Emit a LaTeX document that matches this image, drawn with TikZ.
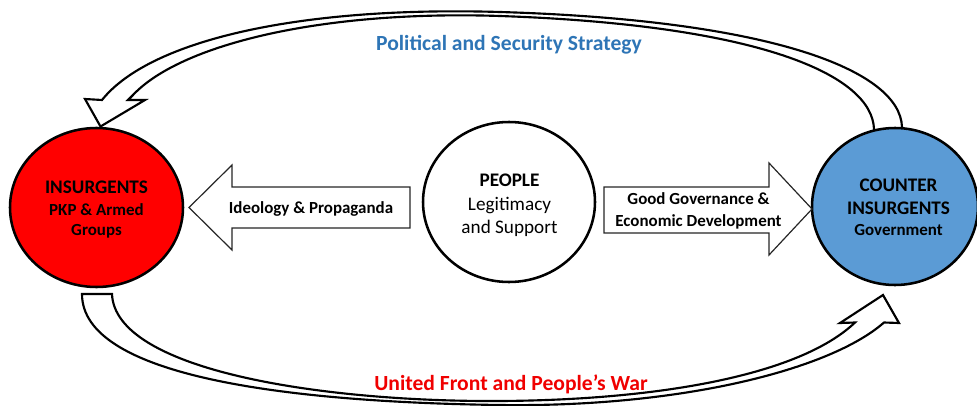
\documentclass[tikz,border=0pt]{standalone}
\usepackage{fontspec}
\setmainfont{Carlito}
\usetikzlibrary{shapes.geometric}
\definecolor{insred}{RGB}{255,0,0}
\definecolor{cblue}{RGB}{91,155,213}
\definecolor{tblue}{RGB}{46,117,182}
\definecolor{tred}{RGB}{240,0,0}
\tikzset{
  party/.style={ellipse,draw=black,line width=1.9pt,inner sep=0pt},
  bendarrow/.style={draw=black,fill=white,line width=1.6pt,line join=miter},
  blockarrow/.style={draw=black!85,fill=white,line width=0.9pt,line join=miter},
  lbl/.style={inner sep=0pt,anchor=base,align=center},
  bigb/.style={lbl,font=\fontsize{14.4}{16}\selectfont\bfseries},
  smallb/.style={lbl,font=\fontsize{12.7}{14}\selectfont\bfseries},
  reg/.style={lbl,font=\fontsize{14.4}{16}\selectfont},
  arrowtxt/.style={lbl,font=\fontsize{12.7}{14}\selectfont\bfseries},
  title/.style={lbl,font=\fontsize{16.2}{18}\selectfont\bfseries}
}
\begin{document}
\begin{tikzpicture}[x=0.75pt,y=-0.75pt]
\useasboundingbox (0,0) rectangle (977,406);
% curved arrow on top (from counter insurgents to insurgents)
\draw[bendarrow] (902,138) -- (902,127) .. controls (900,70) and (770,20) .. (500,12)
  .. controls (300,6) and (150,40) .. (102,100) -- (85,99) -- (100.5,126.5) -- (145,100)
  -- (128,100) -- (133,95) .. controls (180,45) and (320,10) .. (500,16)
  .. controls (760,25) and (872,75) .. (874,129) -- (874,138) -- cycle;
% curved arrow at bottom (from insurgents to counter insurgents)
\draw[bendarrow] (82,294) .. controls (82,375) and (280,402) .. (500,405)
  .. controls (680,407.5) and (830,370) .. (884,322.5) -- (899,323) -- (883,295)
  -- (840,323) -- (855,322.5) .. controls (800,375) and (660,400) .. (500,401)
  .. controls (320,402) and (115,370) .. (112,294) -- cycle;
% the three actors
\node[party,fill=insred,minimum width=129.75pt,minimum height=119.25pt] (ins) at (96.5,207.5) {};
\node[party,fill=white,minimum width=129pt,minimum height=120pt] (ppl) at (509,202) {};
\node[party,fill=cblue,minimum width=124.5pt,minimum height=117.75pt] (coin) at (895,206.5) {};
% block arrows
\draw[blockarrow] (410,187) -- (232,187) -- (232,165) -- (189,207.5) -- (232,250) -- (232,228) -- (410,228) -- cycle;
\draw[blockarrow] (604,187) -- (769,187) -- (769,163) -- (812,209) -- (769,255) -- (769,233) -- (604,233) -- cycle;
% texts
\node[bigb] (ins1) at (96.5,193) {INSURGENTS};
\node[smallb] (ins2) at (96.5,215) {PKP \& Armed};
\node[smallb] (ins3) at (96.5,235) {Groups};
\node[bigb] (ppl1) at (509.5,186) {PEOPLE};
\node[reg] (ppl2) at (509.5,210) {Legitimacy};
\node[reg] (ppl3) at (509.5,233) {and Support};
\node[bigb] (coin1) at (898.5,191) {COUNTER};
\node[bigb] (coin2) at (898.5,214) {INSURGENTS};
\node[smallb] (coin3) at (898.5,235) {Government};
\node[arrowtxt] (ideo) at (311,213) {Ideology \& Propaganda};
\node[arrowtxt] (gg1) at (698.5,204) {Good Governance \&};
\node[arrowtxt] (gg2) at (698.5,226) {Economic Development};
\node[title,text=tblue] (pol) at (509,50.5) {Political and Security Strategy};
\node[title,text=tred] (uf) at (511,390.5) {United Front and People’s War};
\end{tikzpicture}
\end{document}
